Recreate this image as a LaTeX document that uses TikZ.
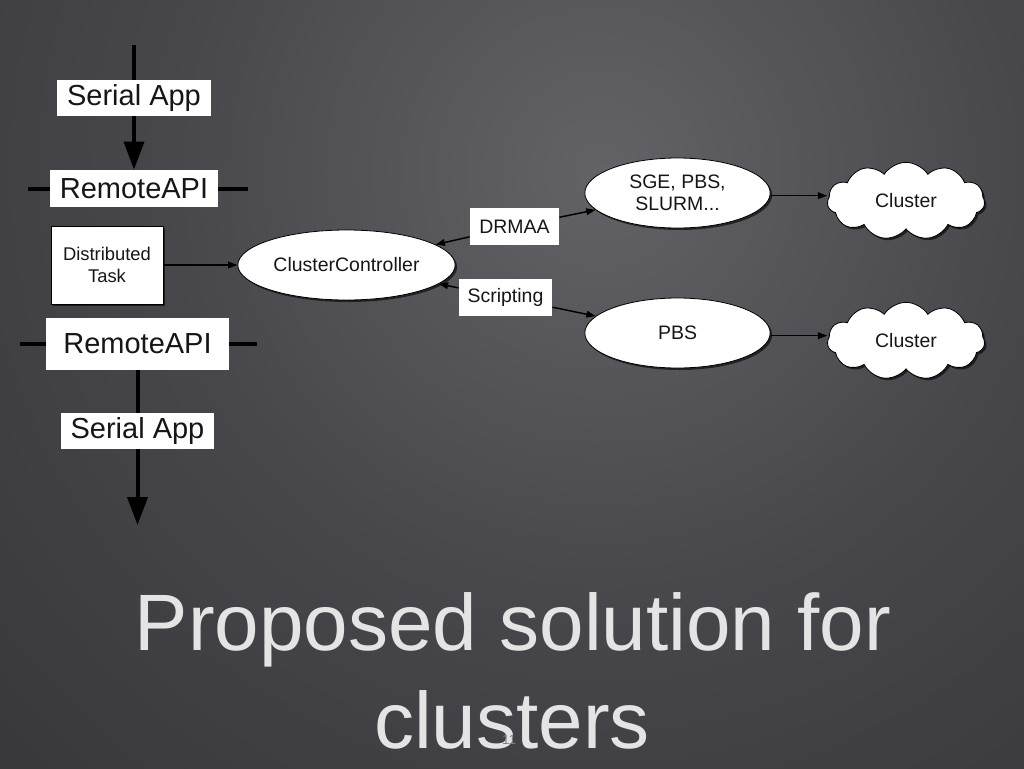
\documentclass[tikz,border=0pt]{standalone}
\usepackage{fontspec}
\setmainfont{Liberation Sans}
\usetikzlibrary{arrows.meta,shapes.geometric,shapes.symbols,shadows}
\definecolor{bgl}{HTML}{636367}
\definecolor{bgm}{HTML}{47474B}
\definecolor{bgd}{HTML}{2A2A2E}
\definecolor{titlecol}{HTML}{E4E4E4}
\definecolor{inkcol}{HTML}{161616}
\pgfdeclareradialshading{bgshade}{\pgfpoint{0bp}{0bp}}{color(0bp)=(bgl); color(10bp)=(bgm); color(28bp)=(bgd); color(50bp)=(bgd)}
\tikzset{
  shad/.style={drop shadow={shadow xshift=1.5pt,shadow yshift=-1.5pt,fill=black,opacity=0.6}},
  bigbox/.style={draw=none,fill=white,inner sep=0pt,font=\fontsize{21.75pt}{24pt}\selectfont,text=inkcol},
  smallbox/.style={draw=none,fill=white,inner sep=0pt,font=\fontsize{14.6pt}{17pt}\selectfont,text=inkcol},
  ell/.style={ellipse,draw=black,line width=0.6pt,fill=white,inner sep=0pt,minimum width=163pt,minimum height=52.5pt,font=\fontsize{14.6pt}{16.5pt}\selectfont,text=inkcol,align=center,shad},
  cloudnode/.style={cloud,cloud puffs=11,cloud puff arc=115,aspect=2,draw=black,line width=0.6pt,fill=white,inner sep=0pt,minimum width=118pt,minimum height=58pt,font=\fontsize{14.6pt}{17pt}\selectfont,text=inkcol,shad},
  bigline/.style={line width=3pt,black},
  bigarrow/.style={line width=3pt,black,-{Triangle[length=21pt,width=15pt]}},
  conn/.style={line width=1.1pt,black,-{Triangle[length=7pt,width=5pt]}},
}
\begin{document}
\begin{tikzpicture}[x=0.75pt,y=-0.75pt]
\useasboundingbox (0,0) rectangle (1024,768);
\begin{scope}
\clip (0,0) rectangle (1024,768);
\fill[bgd] (0,0) rectangle (1024,768);
\shade[shading=bgshade] (600,170) circle (1100);
\end{scope}
% coordinates for free ends
\coordinate (topin) at (134,45);
\coordinate (botout) at (137.5,525);
\coordinate (l1) at (28,188.5);
\coordinate (r1) at (248,188.5);
\coordinate (l2) at (20,343.5);
\coordinate (r2) at (257,343.5);
% lines behind boxes
\draw[bigline] (l1) -- (r1);
\draw[bigline] (l2) -- (r2);
% nodes
\node[bigbox,minimum width=126pt,minimum height=28pt] (ra1) at (134,188.5) {RemoteAPI};
\node[bigbox,minimum width=137pt,minimum height=39pt] (ra2) at (137.5,344) {RemoteAPI};
\draw[bigarrow] (topin) -- (ra1.north);
\draw[bigarrow] (ra2.south) -- (botout);
\node[bigbox,minimum width=115pt,minimum height=27pt] (sa1) at (134,98) {Serial App};
\node[bigbox,minimum width=115pt,minimum height=27pt] (sa2) at (137.5,431) {Serial App};
\node[smallbox,draw=black,line width=0.6pt,minimum width=84pt,minimum height=58.5pt,align=center,font=\fontsize{13.8pt}{16pt}\selectfont,shad] (dt) at (107,265) {Distributed\\Task};
\node[ell] (cc) at (346.5,265) {ClusterController};
\node[smallbox,minimum width=67pt,minimum height=28pt] (drmaa) at (514.5,226.5) {DRMAA};
\node[smallbox,minimum width=70pt,minimum height=28pt] (scr) at (505.5,297.5) {Scripting};
\node[ell,minimum width=139pt] (sge) at (677.5,193) {SGE, PBS,\\SLURM...};
\node[ell,minimum width=139pt] (pbs) at (677.5,333) {PBS};
\node[cloudnode] (cl1) at (906,201) {Cluster};
\node[cloudnode] (cl2) at (906,341) {Cluster};
% connectors
\draw[conn] (dt.east) -- (cc.west);
\draw[conn] (drmaa) -- (cc);
\draw[conn] (drmaa) -- (sge);
\draw[conn] (scr) -- (cc);
\draw[conn] (scr) -- (pbs);
\draw[conn] ([yshift=-2pt]sge.east) -- ([yshift=-2pt]sge.east -| cl1.west);
\draw[conn] ([yshift=-2pt]pbs.east) -- ([yshift=-2pt]pbs.east -| cl2.west);
% title
\node[anchor=base,text=titlecol,inner sep=0pt,font=\fontsize{60pt}{72pt}\selectfont] (t1) at (513,650) {Proposed solution for};
\node[anchor=base,text=titlecol,inner sep=0pt,font=\fontsize{60pt}{72pt}\selectfont] (t2) at (512,748) {clusters};
\node[anchor=base,text=gray,inner sep=0pt,font=\fontsize{10pt}{12pt}\selectfont] (pg) at (509,744) {11};
\end{tikzpicture}
\end{document}
